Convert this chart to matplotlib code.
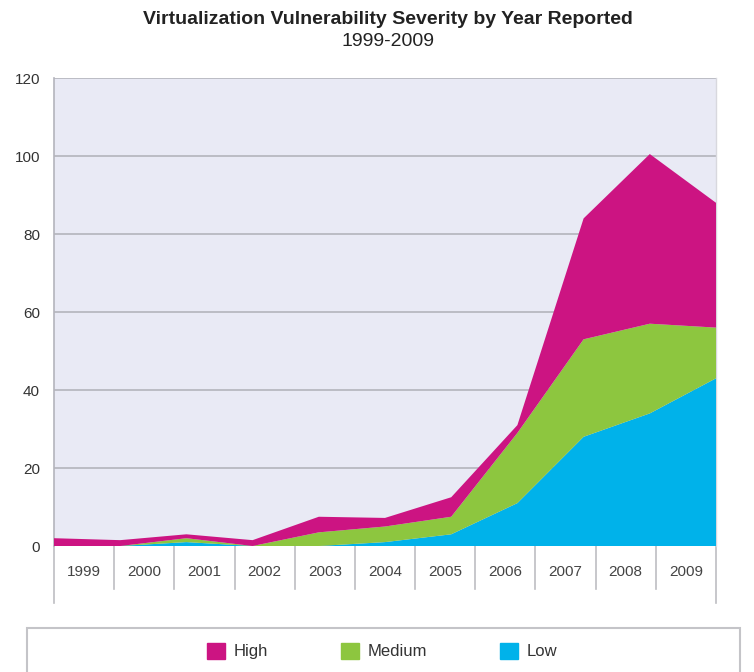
import matplotlib.pyplot as plt
from matplotlib.patches import Patch, Rectangle
import numpy as np

# data
years = ['1999', '2000', '2001', '2002', '2003', '2004',
         '2005', '2006', '2007', '2008', '2009']
low = [0, 0, 1, 0, 0, 1, 3, 11, 28, 34, 43]
medium = [0, 0, 1, 0, 3.5, 4, 4.5, 18, 25, 23, 13]
high = [2, 1.5, 1, 1.5, 4, 2.2, 5, 2, 31, 43.5, 32]

col_high = '#cc1482'
col_med = '#8dc63f'
col_low = '#00b2ea'

plt.rcParams['font.family'] = ['Liberation Sans', 'DejaVu Sans']

W, H = 754, 672
fig = plt.figure(figsize=(W / 100, H / 100), dpi=100)

# plot area in pixels: x 54..716, y 78..546
L, R, T, B = 54, 716, 78, 546
ax = fig.add_axes([L / W, 1 - B / H, (R - L) / W, (B - T) / H])
ax.set_facecolor('#e9eaf5')

x = np.arange(len(years))
ax.stackplot(x, low, medium, high, colors=[col_low, col_med, col_high],
             linewidth=0, zorder=3)

ax.set_xlim(0, len(years) - 1)
ax.set_ylim(0, 120)
ax.set_yticks(range(0, 121, 20))
ax.set_xticks([])
ax.tick_params(axis='y', length=0, pad=10, labelsize=11, labelcolor='#333333')
ax.grid(axis='y', color='#b4b4bc', linewidth=1.2, zorder=1)
ax.set_axisbelow(True)

for s in ['top', 'bottom']:
    ax.spines[s].set_visible(False)
ax.spines['left'].set_color('#b4b4bc')
ax.spines['left'].set_linewidth(1.2)
ax.spines['right'].set_color('#d8d8de')
ax.spines['right'].set_linewidth(1.0)

# year cells below the plot
n = len(years)
ph = B - T
for i, yr in enumerate(years):
    ax.text((i + 0.5) / n, -(572 - B) / ph, yr, transform=ax.transAxes,
            ha='center', va='center', fontsize=11, color='#444444')
for k in range(n + 1):
    bottom = 603 if k in (0, n) else 589
    ax.plot([k / n, k / n], [0, -(bottom - B) / ph], transform=ax.transAxes,
            color='#bdbdc2', linewidth=1.2, clip_on=False)

# titles
cx = 388 / W
fig.text(cx, 1 - 20 / H, 'Virtualization Vulnerability Severity by Year Reported',
         ha='center', va='center', fontsize=14, fontweight='bold', color='#222222')
fig.text(cx, 1 - 42 / H, '1999-2009', ha='center', va='center',
         fontsize=14, color='#222222')

# legend box
fig.patches.append(Rectangle((27 / W, -0.05), (740 - 27) / W, (H - 628) / H + 0.05,
                             transform=fig.transFigure, facecolor='white',
                             edgecolor='#c4c4c8', linewidth=1.5))
handles = [Patch(color=col_high, label='High'),
           Patch(color=col_med, label='Medium'),
           Patch(color=col_low, label='Low')]
fig.legend(handles=handles, loc='center', bbox_to_anchor=(382 / W, 1 - 651 / H),
           ncol=3, frameon=False, fontsize=12, handlelength=1.08,
           handleheight=1.08, handletextpad=0.5, columnspacing=4.4,
           labelcolor='#333333')

fig.savefig('out.png', dpi=100)
